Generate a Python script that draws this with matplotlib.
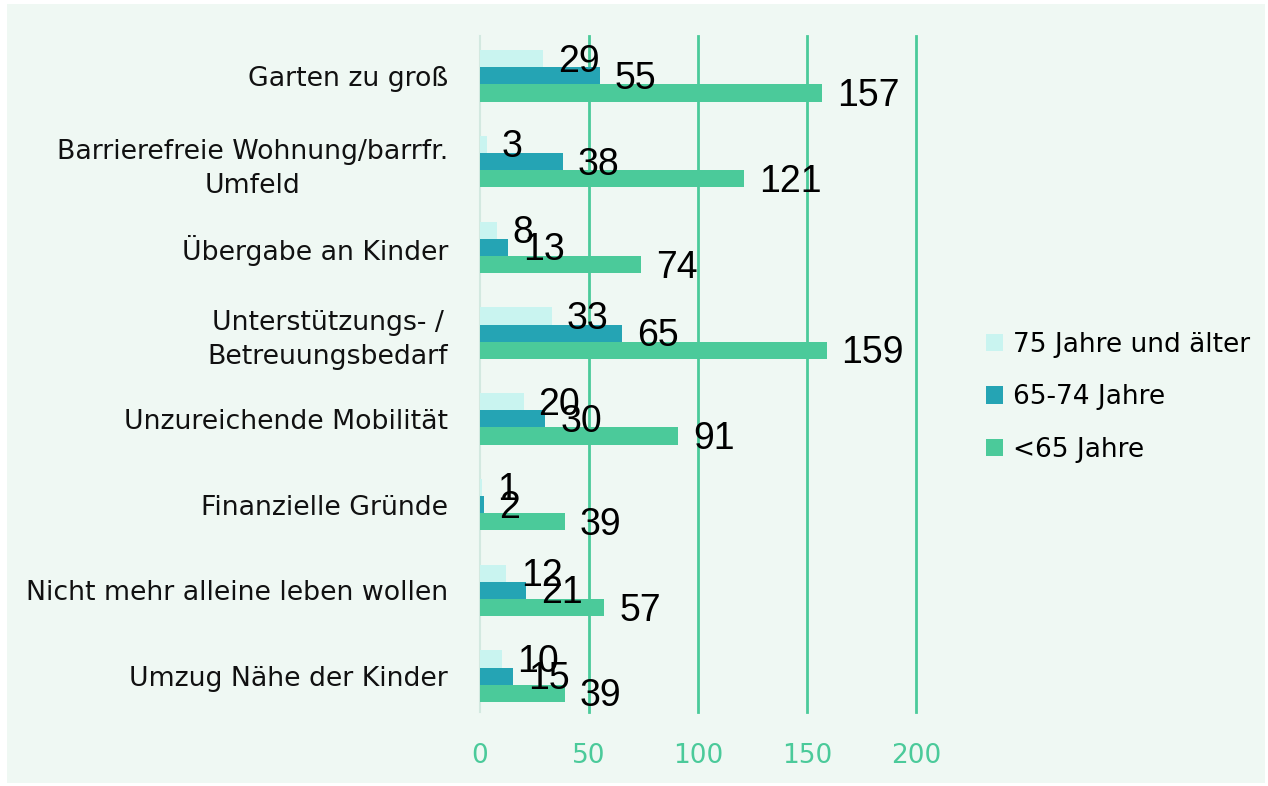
import matplotlib.pyplot as plt
import numpy as np
from matplotlib.patches import Rectangle

# data
categories = ["Garten zu groß",
              "Barrierefreie Wohnung/barrfr.\nUmfeld",
              "Übergabe an Kinder",
              "Unterstützungs- /\nBetreuungsbedarf",
              "Unzureichende Mobilität",
              "Finanzielle Gründe",
              "Nicht mehr alleine leben wollen",
              "Umzug Nähe der Kinder"]
series_names = ["75 Jahre und älter", "65-74 Jahre", "<65 Jahre"]
vals_75 = [29, 3, 8, 33, 20, 1, 12, 10]
vals_65_74 = [55, 38, 13, 65, 30, 2, 21, 15]
vals_u65 = [157, 121, 74, 159, 91, 39, 57, 39]
x_ticks = [0, 50, 100, 150, 200]

# styles
bg = "#EFF8F3"
colors = ["#C9F4F0", "#25A4B4", "#4BCA9A"]
grid_col = "#4BCA9A"
label_font = ["Liberation Sans Narrow", "Liberation Sans", "DejaVu Sans"]
text_font = ["DejaVu Sans"]

fig = plt.figure(figsize=(12.68, 7.86), dpi=100)
fig.patch.set_facecolor("white")
fig.patches.append(Rectangle((7 / 1268, 3 / 786), 1258 / 1268, 779 / 786,
                             transform=fig.transFigure, facecolor=bg,
                             edgecolor="none", zorder=-10))

ax = fig.add_axes([480 / 1268, 1 - 719 / 786, 436 / 1268, 686 / 786])
ax.set_facecolor("none")

y = np.arange(len(categories))
h = 0.2
all_vals = [vals_75, vals_65_74, vals_u65]
offsets = [-h, 0, h]
for vals, off, col, name in zip(all_vals, offsets, colors, series_names):
    bars = ax.barh(y + off, vals, height=h, color=col, label=name, zorder=2)
    for b, v in zip(bars, vals):
        ax.annotate(str(v), (b.get_width(), b.get_y() + b.get_height() / 2),
                    xytext=(15, -3), textcoords="offset pixels",
                    ha="left", va="center", fontsize=27, family=label_font,
                    color="black", zorder=4)

ax.set_xlim(0, 200)
ax.set_ylim(len(categories) - 0.5, -0.5)
ax.set_yticks(y)
ax.set_yticklabels(categories, fontsize=19.3, family=text_font, color="#111111",
                   ha="right", multialignment="center", linespacing=1.4)
ax.tick_params(axis="y", length=0, pad=23)
ax.set_xticks(x_ticks)
ax.set_xticklabels([str(t) for t in x_ticks], fontsize=19, family=text_font,
                   color=grid_col)
ax.tick_params(axis="x", length=0, pad=17)

for t in x_ticks[1:]:
    ax.axvline(t, color=grid_col, linewidth=2, zorder=1, ymin=0.01, ymax=0.995,
               clip_on=False)
ax.axvline(0, color="#D3E9E0", linewidth=1.5, zorder=1, ymin=0.01, ymax=0.995,
           clip_on=False)

for s in ax.spines.values():
    s.set_visible(False)

leg = ax.legend(loc="center left", bbox_to_anchor=(1.106, 0.469), frameon=False,
                prop={"family": text_font, "size": 19}, handlelength=0.63,
                handleheight=0.63, handletextpad=0.4, labelspacing=1.0)

plt.savefig("out.png", dpi=100, facecolor=fig.get_facecolor())
